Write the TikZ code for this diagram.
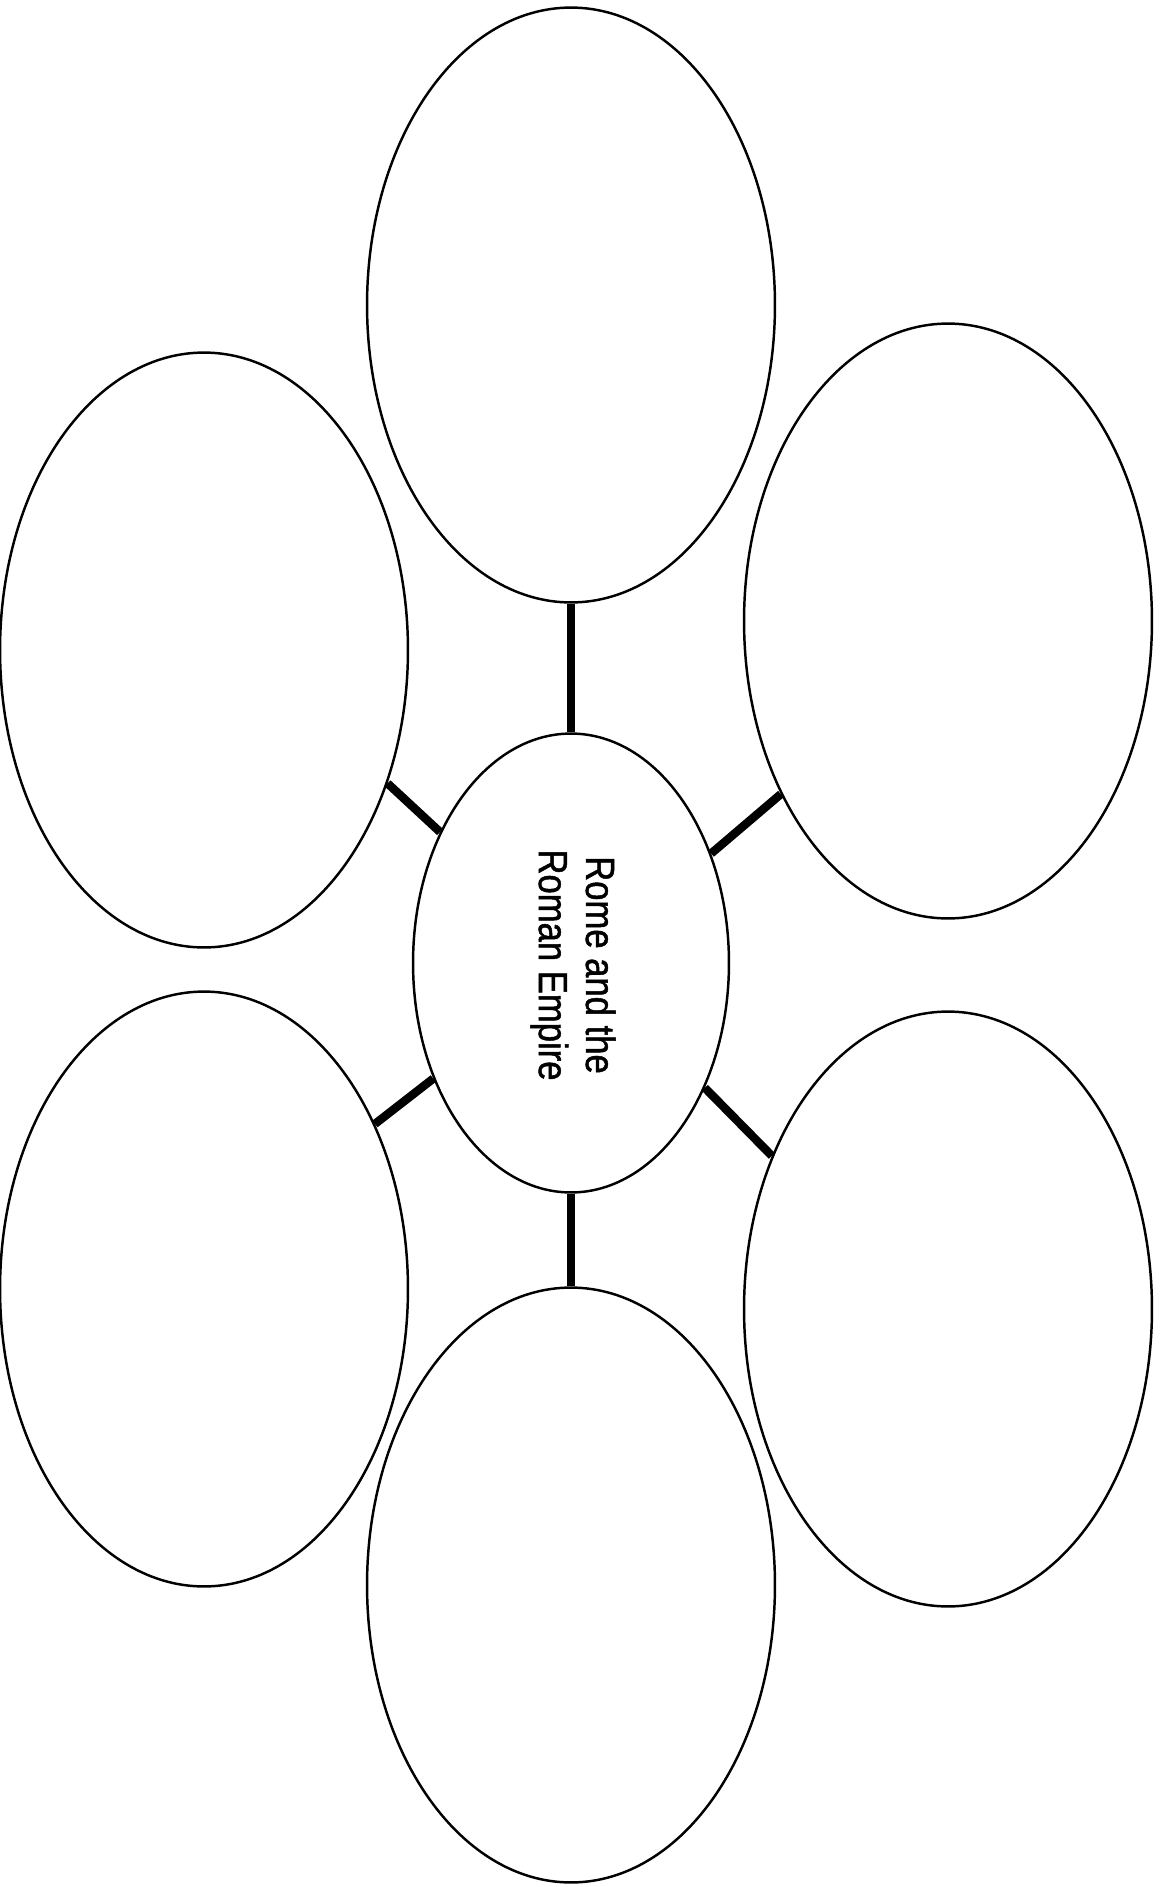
\documentclass[tikz,border=0pt]{standalone}
\usepackage{fontspec}
\usepackage{tikz}
\usetikzlibrary{shapes.geometric}
\newfontfamily\hubfont[FakeStretch=0.85, FakeBold=1.2]{Liberation Sans}

\begin{document}
\begin{tikzpicture}[x=0.02cm, y=-0.02cm,
  bubble/.style={draw, ellipse, line width=1.4pt, minimum width=8.16cm, minimum height=11.9cm},
  hub/.style={draw, ellipse, line width=1.4pt, minimum width=6.32cm, minimum height=9.18cm},
  link/.style={line width=4.8pt}
]
\useasboundingbox (0,0) rectangle (1160,1887);
\node[hub] (c) at (571,963) {};
\node[rotate=-90, align=center, font=\hubfont\fontsize{23.2pt}{26.8pt}\selectfont] (ctitle) at (573,965) {Rome and the\\Roman Empire};

\node[bubble] (top) at (571,305) {};
\node[bubble] (ul) at (204,650) {};
\node[bubble] (ur) at (948,621) {};
\node[bubble] (ll) at (204,1289) {};
\node[bubble] (lr) at (948,1309) {};
\node[bubble] (bot) at (571,1585) {};
\foreach \a/\n/\b in {90/top/270, 135/ul/-36, 38/ur/226, 220/ll/44, 317/lr/139, 270/bot/90}
  \draw[link] (c.\a) -- (\n.\b);
\end{tikzpicture}
\end{document}
